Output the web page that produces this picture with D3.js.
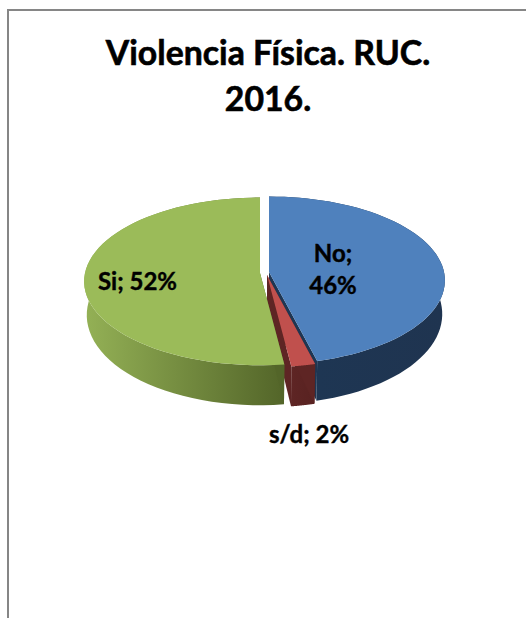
<!DOCTYPE html>
<html><head><meta charset="utf-8">
<script src="https://cdn.jsdelivr.net/npm/d3@7"></script>
<style>html,body{margin:0;padding:0;background:#fff;overflow:hidden}svg{display:block}text{font-family:Lato,"Open Sans",sans-serif;font-weight:700;fill:#000;stroke:#000;paint-order:stroke}</style>
</head><body><div id="c"></div>
<script>
const categories = ["No", "s/d", "Si"];
const values = [46, 2, 52];
const titleLines = ["Violencia Física. RUC.", "2016."];

const W = 526, H = 618;
const topColors = ["#4f81bd", "#c0504d", "#9bbb59"];
const wallStops = [["#1e3653", "#1f3450"], ["#5e2524", "#582221"], ["#93b055", "#536529"]];
const centers = [[269, 272], [267, 275], [260, 273]];
const rx = 175, ry = 83, persp = 0.1;
const labelPos = [
  {lines: ["No;", "46%"], x: 333, y: [262, 294]},
  {lines: ["s/d; 2%"], x: 309, y: [443]},
  {lines: ["Si; 52%"], x: 137.5, y: [290]}
];

const svg = d3.select("#c").append("svg").attr("width", W).attr("height", H);
const defs = svg.append("defs");

svg.append("path")
  .attr("d", d3.line()([[W, 10], [8, 10], [8, H]]))
  .attr("fill", "none").attr("stroke", "#868686").attr("stroke-width", 2);

const title = svg.append("g").attr("text-anchor", "middle").attr("font-size", 33.8).attr("stroke-width", 0.6);
titleLines.forEach((t, i) => title.append("text")
  .attr("x", 268).attr("y", 65 + i * 46).text(t));

const pie = d3.pie().sort(null).startAngle(0).endAngle(2 * Math.PI);
const arcs = pie(values);

// Tilted-disc projection: angle -> screen point (top face and lower rim)
const topPt = (a, c) => {
  const u = Math.sin(a), v = -Math.cos(a), p = 1 / (1 - persp * v);
  return [c[0] + rx * u * p, c[1] + ry * v * p];
};
const lowPt = (a, c) => {
  const u = Math.sin(a), v = -Math.cos(a), p = 1 / (1 - persp * v);
  return [c[0] + 0.985 * rx * u * p, c[1] + ry * v * p + 33 + 7 * v];
};
const apexLow = c => [c[0], c[1] + 33];
const steps = (a0, a1) => d3.range(0, 61).map(i => a0 + (a1 - a0) * i / 60);
const line = d3.line().curve(d3.curveLinear);

arcs.forEach((d, i) => {
  const c = centers[i], as = steps(d.startAngle, d.endAngle);
  const topArc = as.map(a => topPt(a, c));
  const lowArc = as.map(a => lowPt(a, c));
  const xs = lowArc.map(p => p[0]).filter((x, k) => Math.cos(as[k]) < 0.3);
  const id = "wall" + i;
  const g = defs.append("linearGradient").attr("id", id)
    .attr("gradientUnits", "userSpaceOnUse")
    .attr("x1", d3.min(xs)).attr("x2", d3.max(xs)).attr("y1", 0).attr("y2", 0);
  g.append("stop").attr("offset", 0).attr("stop-color", wallStops[i][0]);
  g.append("stop").attr("offset", 1).attr("stop-color", wallStops[i][1]);

  const slice = svg.append("g").attr("class", "slice");
  // outer wall
  slice.append("path")
    .attr("d", line(topArc.concat(lowArc.slice().reverse())) + "Z")
    .attr("fill", `url(#${id})`);
  // cut walls
  const wallCut = wallStops[i][i === 2 ? 1 : 0];
  [d.startAngle, d.endAngle].forEach(a => {
    slice.append("path")
      .attr("d", line([c, topPt(a, c), lowPt(a, c), apexLow(c)]) + "Z")
      .attr("fill", wallCut);
  });
  // top face
  slice.append("path")
    .attr("d", line([c].concat(topArc)) + "Z")
    .attr("fill", topColors[i]);
});

const labels = svg.append("g").attr("text-anchor", "middle").attr("font-size", 24).attr("stroke-width", 0.4);
arcs.forEach((d, i) => {
  const pos = labelPos[i];
  pos.lines.forEach((t, k) => labels.append("text")
    .attr("x", pos.x).attr("y", pos.y[k]).text(t));
});
</script></body></html>
